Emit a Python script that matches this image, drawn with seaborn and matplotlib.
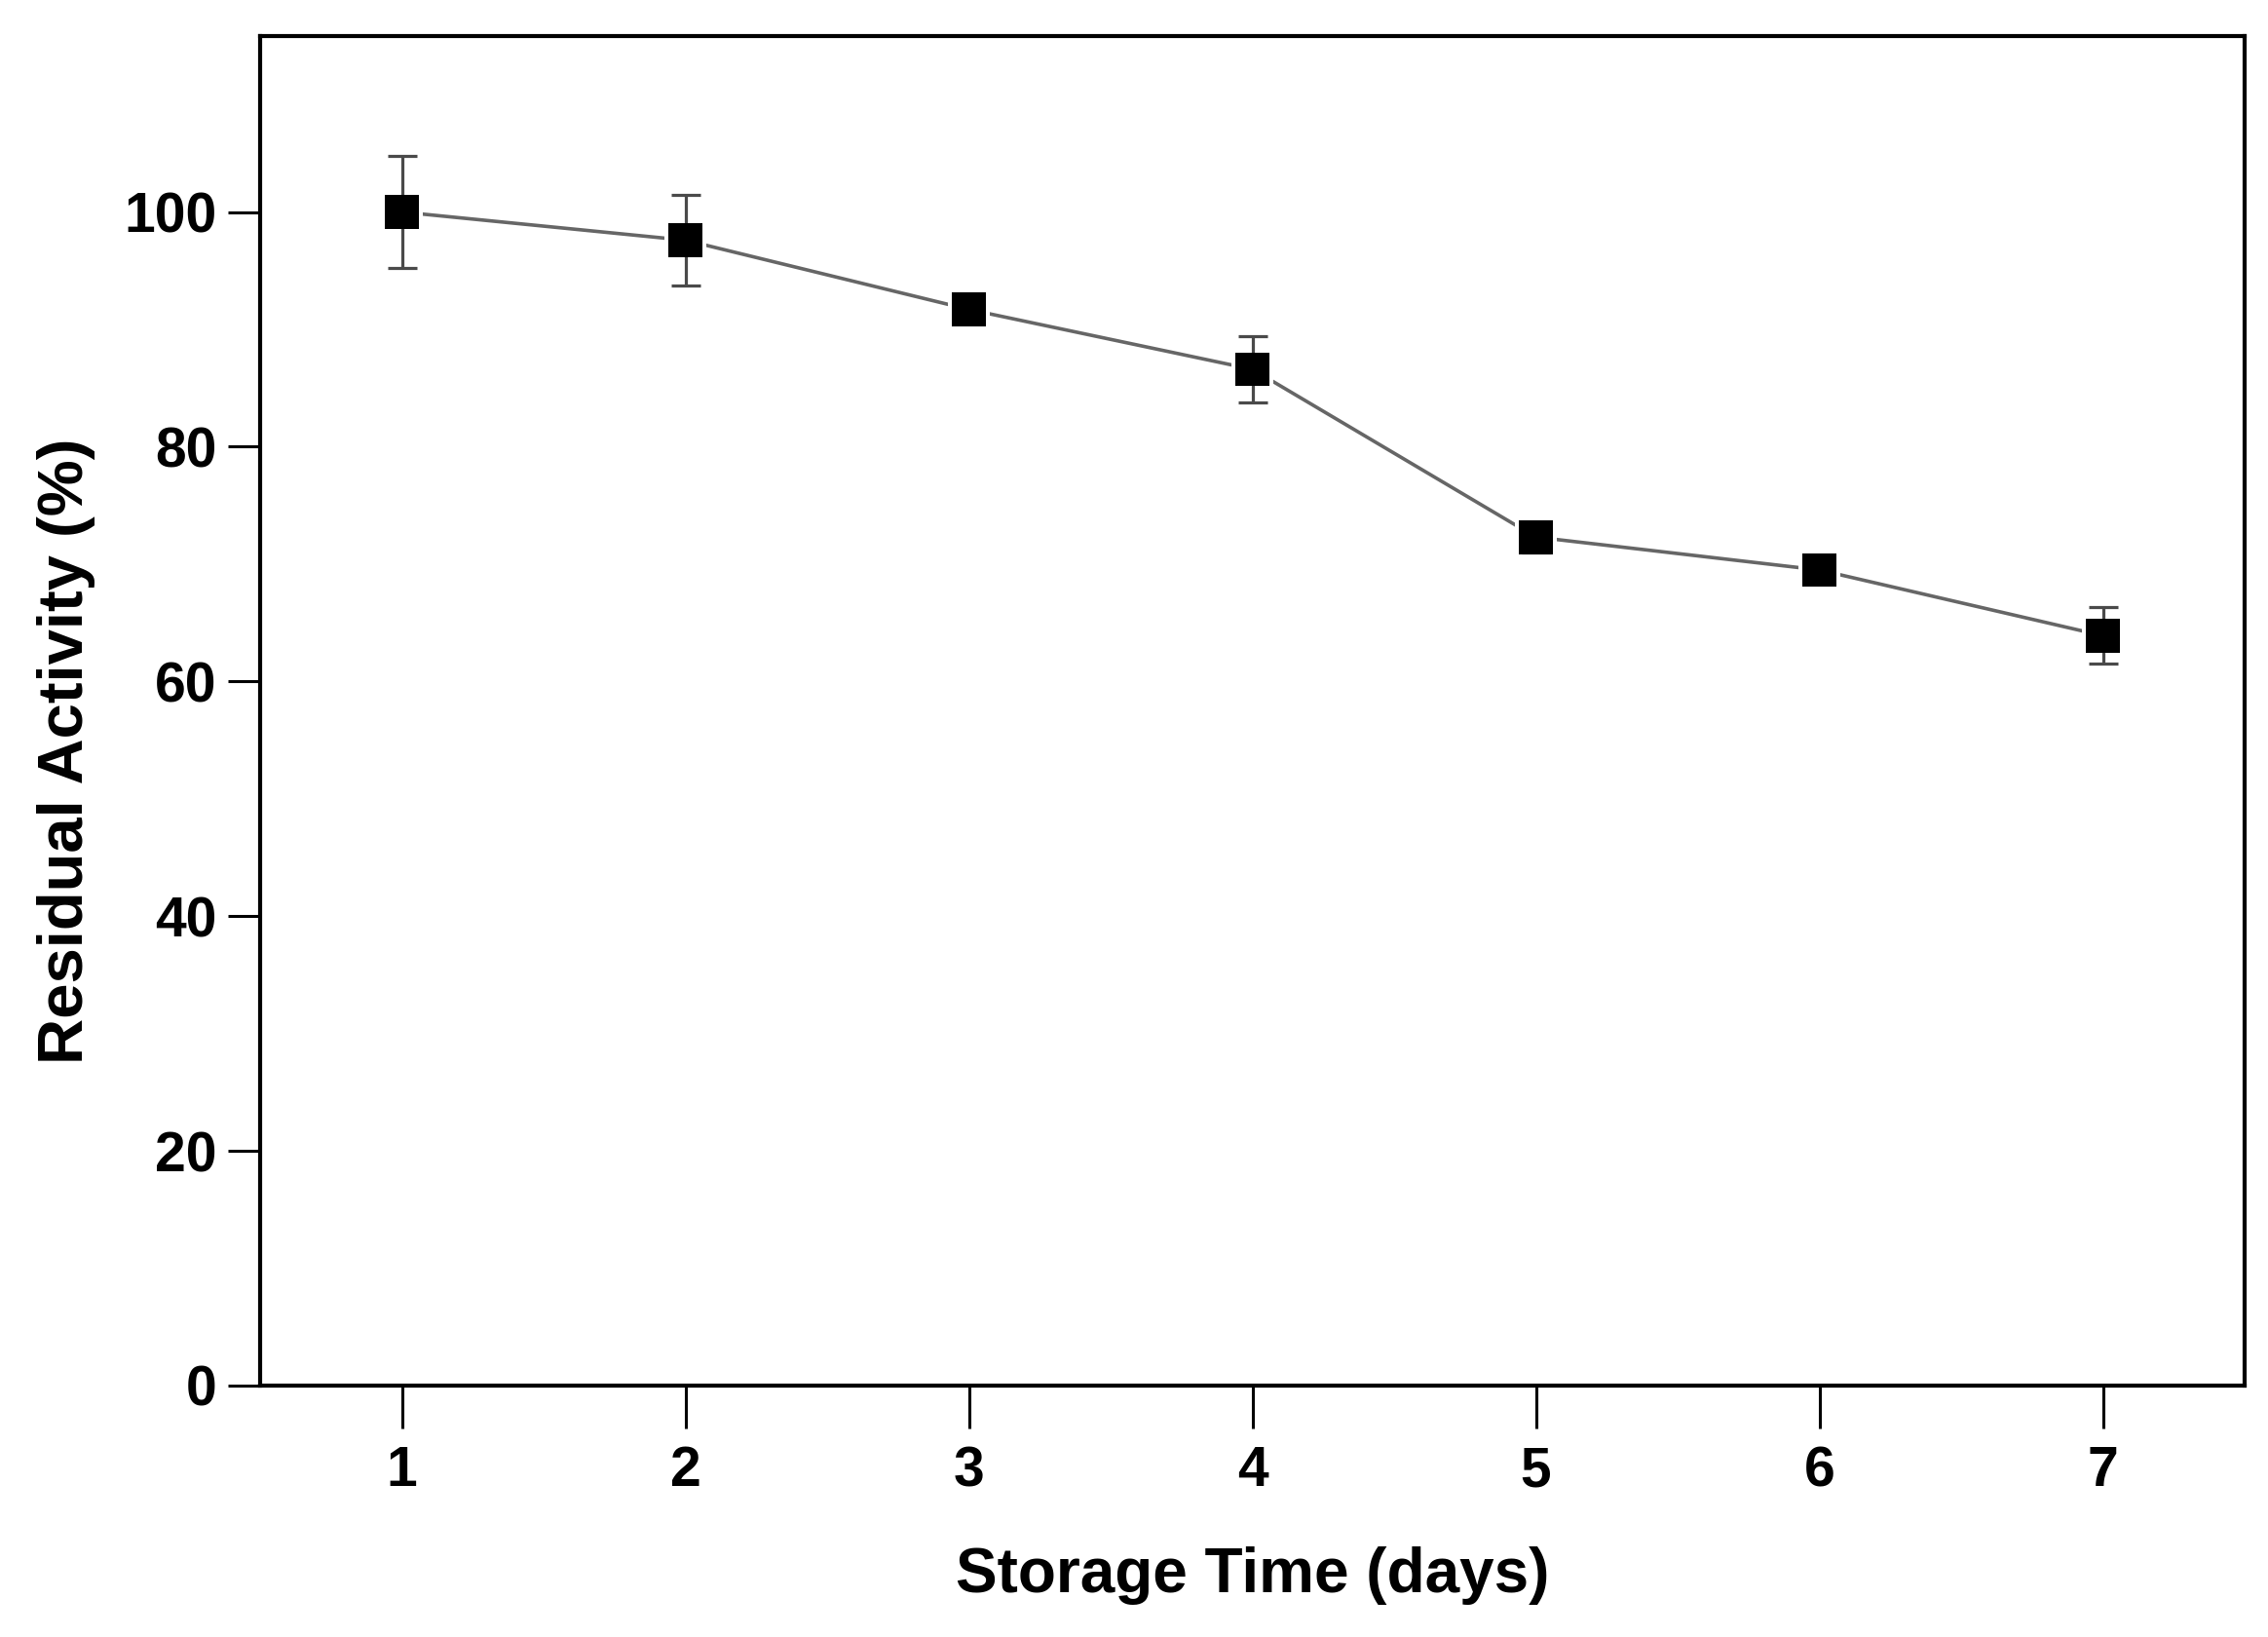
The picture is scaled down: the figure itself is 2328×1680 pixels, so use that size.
import numpy as np
import pandas as pd
import matplotlib
matplotlib.use('Agg')
import matplotlib.pyplot as plt
import seaborn as sns

# ── datos ──
dias      = [1, 2, 3, 4, 5, 6, 7]
actividad = [100.0, 97.6, 91.7, 86.6, 72.3, 69.5, 63.9]
error     = [4.8, 3.85, 1.0, 2.8, 1.3, 0.8, 2.4]

xticks = [1, 2, 3, 4, 5, 6, 7]
yticks = [0, 20, 40, 60, 80, 100]

df = pd.DataFrame({'dia': dias, 'act': actividad, 'err': error})

sns.set_theme(style='ticks')
plt.rcParams['font.family'] = ['Liberation Sans', 'DejaVu Sans']
plt.rcParams['font.weight'] = 'bold'
plt.rcParams['text.color'] = 'black'
plt.rcParams['axes.labelcolor'] = 'black'

fig = plt.figure(figsize=(23.28, 16.8), dpi=100)
ax = fig.add_axes([0.1147, 0.1536, 0.875, 0.8244])

# línea gris
sns.lineplot(data=df, x='dia', y='act', color='#666666', linewidth=2.6,
             ax=ax, zorder=1, errorbar=None)
# halo blanco alrededor de los marcadores (hueco entre línea y marcador)
sns.scatterplot(data=df, x='dia', y='act', marker='s', s=1000, color='white',
                edgecolor='none', ax=ax, zorder=2)
# barras de error
ax.errorbar(df['dia'], df['act'], yerr=df['err'], fmt='none', ecolor='#4a4a4a',
            elinewidth=2.3, capsize=11, capthick=2.3, zorder=3)
# marcadores
sns.scatterplot(data=df, x='dia', y='act', marker='s', s=630, color='black',
                edgecolor='none', ax=ax, zorder=4)

ax.set_xlim(0.5, 7.5)
ax.set_ylim(0, 115)
ax.set_xticks(xticks)
ax.set_yticks(yticks)
ax.set_xticklabels([str(t) for t in xticks], fontsize=41, fontweight='bold')
ax.set_yticklabels([str(t) for t in yticks], fontsize=41, fontweight='bold')

ax.tick_params(axis='x', direction='out', length=32, width=2.2, pad=12,
               top=False, colors='black')
ax.tick_params(axis='y', direction='out', length=24, width=2.2, pad=8,
               right=False, colors='black')

for sp in ax.spines.values():
    sp.set_visible(True)
    sp.set_linewidth(3.0)
    sp.set_color('black')

ax.set_xlabel('Storage Time (days)', fontsize=46, fontweight='bold', color='black')
ax.set_ylabel('Residual Activity (%)', fontsize=47, fontweight='bold', color='black')
ax.xaxis.set_label_coords(0.5, -0.119)
ax.yaxis.set_label_coords(-0.083, 0.47)
ax.set_facecolor('white')
fig.patch.set_facecolor('white')

fig.savefig('out.png', dpi=100)
